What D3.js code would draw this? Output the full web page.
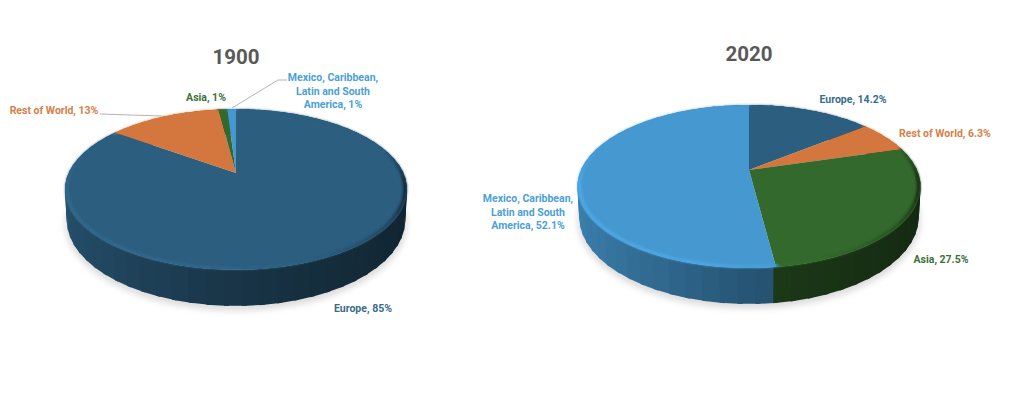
<!DOCTYPE html>
<html lang="en">
<head>
<meta charset="UTF-8">
<title>Immigrant origins, 1900 and 2020</title>
<script src="https://d3js.org/d3.v7.min.js"></script>
<style>
  html, body { margin: 0; background: #fff; }
  text { font-family: "Roboto", sans-serif; font-weight: 700; }
</style>
</head>
<body>
<svg width="1024" height="404"></svg>
<script>
// values, clockwise from 12 o'clock
const categories = ['Europe', 'Rest of World', 'Asia', 'Mexico, Caribbean, Latin and South America'];
const values1900 = [85, 13, 1, 1];
const values2020 = [14.2, 6.3, 27.5, 52.1];
const valueLabels1900 = ['85%', '13%', '1%', '1%'];
const valueLabels2020 = ['14.2%', '6.3%', '27.5%', '52.1%'];
const colors = ['#2c5e7f', '#d4773f', '#33692c', '#4698d0'];
const textColors = ['#3a6c8d', '#d87e48', '#3d7236', '#4c9fd8'];

const svg = d3.select('svg');
const defs = svg.append('defs');
defs.append('filter').attr('id', 'soft').append('feGaussianBlur').attr('stdDeviation', 0.8);
defs.append('filter').attr('id', 'shadow').attr('x', '-10%').attr('y', '-10%').attr('width', '120%').attr('height', '120%')
  .append('feGaussianBlur').attr('stdDeviation', 3);

// side shading runs light on the left to dark on the right
const sideShade = d3.scaleLinear().domain([-1, 0, 1]).range([0.85, 0.56, 0.38]).clamp(true);
const rimShade = d3.scaleLinear().domain([-1, -0.3, 0.3, 0.8, 1]).range([1.1, 1.12, 1.02, 0.75, 0.4]);
const rimFade = d3.scaleLinear().domain([-0.35, 0.15]).range([0, 1]).clamp(true);

function shade(color, k) {
  const c = d3.rgb(color);
  return d3.rgb(Math.min(255, c.r * k), Math.min(255, c.g * k), Math.min(255, c.b * k)).formatHex();
}

function drawPie(values, g) {
  // perspective ellipse: w shrinks toward the viewer so the apex sits above the ellipse middle
  const proj = (a, r, drop, scale) => {
    const X = Math.sin(a) * r, Y = -Math.cos(a) * r;
    const w = 1 - g.k * Y;
    return [g.cx + g.rx * X * scale / w, g.cy + (g.ry * Y * scale + drop) / w];
  };
  const line = d3.line();
  const root = svg.append('g');
  const arcs = d3.pie().sort(null)(values);
  const step = Math.PI / 36;

  const ring = (r, drop, scale) => d3.range(0, 2 * Math.PI + step, step).map(a => proj(a, r, drop, scale));

  root.append('path')
    .attr('d', line(ring(1, g.depth + 3, 1)) + 'Z')
    .attr('fill', '#dcdcdc')
    .attr('filter', 'url(#shadow)');

  // split every slice into small pieces along the edge
  const pieces = [];
  arcs.forEach(d => {
    const n = Math.max(1, Math.ceil((d.endAngle - d.startAngle) / step));
    d3.range(n).forEach(i => {
      const a0 = d.startAngle + (d.endAngle - d.startAngle) * i / n;
      const a1 = d.startAngle + (d.endAngle - d.startAngle) * (i + 1) / n;
      pieces.push({ a0, a1, color: colors[d.index] });
    });
  });
  // left to right, each piece overlaps the next one a little so no seams show
  const frontPieces = pieces.slice().sort((p, q) => Math.sin(p.a0 + step / 2) - Math.sin(q.a0 + step / 2));

  root.append('g').selectAll('path').data(frontPieces).join('path')
    .attr('d', p => {
      const a = p.a0 - 0.012, b = p.a1 + 0.012;
      return line([proj(a, 1, 0, 1), proj(b, 1, 0, 1),
        proj(b, 1, g.depth, g.bottom), proj(a, 1, g.depth, g.bottom)]) + 'Z';
    })
    .attr('fill', p => shade(p.color, sideShade(Math.sin((p.a0 + p.a1) / 2))));

  const wedge = d => {
    const n = Math.max(2, Math.ceil((d.endAngle - d.startAngle) / (step / 2)));
    const edge = d3.range(n + 1).map(i => proj(d.startAngle + (d.endAngle - d.startAngle) * i / n, 1, 0, 1));
    return line([proj(0, 0, 0, 1), ...edge]) + 'Z';
  };
  root.append('g').selectAll('path').data(arcs).join('path')
    .attr('d', wedge)
    .attr('fill', d => colors[d.index]);

  // rounded rim on the top edge
  root.append('g').attr('filter', 'url(#soft)').selectAll('path').data(pieces).join('path')
    .attr('d', p => {
      const a = p.a0 - 0.012, b = p.a1 + 0.012;
      return line([proj(a, 1, 0, 1), proj(b, 1, 0, 1), proj(b, 0.98, 0, 1), proj(a, 0.98, 0, 1)]) + 'Z';
    })
    .attr('fill', p => {
      const m = (p.a0 + p.a1) / 2;
      const t = rimFade(-Math.cos(m));
      return shade(p.color, 1 + t * (rimShade(Math.sin(m)) - 1));
    });
}

drawPie(values1900, { cx: 236, cy: 173, rx: 167.4, ry: 77, k: 0.205, depth: 29.5, bottom: 0.99 });
drawPie(values2020, { cx: 749, cy: 170, rx: 168, ry: 78.2, k: 0.2025, depth: 29.5, bottom: 0.99 });

// leader lines and label placement
const leaders = [
  [[100, 114], [162, 116]],
  [[287, 80], [278, 80], [232, 108]]
];
svg.append('g').selectAll('path').data(leaders).join('path')
  .attr('d', d3.line())
  .attr('fill', 'none')
  .attr('stroke', '#b4b4b4')
  .attr('stroke-width', 1);

const titles = [['1900', 236, 64], ['2020', 749, 61]];
svg.append('g').selectAll('text').data(titles).join('text')
  .attr('x', d => d[1]).attr('y', d => d[2])
  .attr('text-anchor', 'middle')
  .attr('font-size', 20.5)
  .attr('fill', '#595959')
  .text(d => d[0]);

const mexicoLines = ['Mexico, Caribbean,', 'Latin and South', 'America, '];
const labels = [
  { i: 0, v: valueLabels1900, x: 363, y: 312 },
  { i: 1, v: valueLabels1900, x: 54, y: 114 },
  { i: 2, v: valueLabels1900, x: 206, y: 101 },
  { i: 3, v: valueLabels1900, x: 333, y: 81, dy: 13.5 },
  { i: 0, v: valueLabels2020, x: 853, y: 103 },
  { i: 1, v: valueLabels2020, x: 945, y: 137 },
  { i: 2, v: valueLabels2020, x: 941, y: 263 },
  { i: 3, v: valueLabels2020, x: 528, y: 202, dy: 13.5 }
];
const labelG = svg.append('g');
labels.forEach(l => {
  const lines = l.i === 3
    ? [mexicoLines[0], mexicoLines[1], mexicoLines[2] + l.v[l.i]]
    : [categories[l.i] + ', ' + l.v[l.i]];
  labelG.append('text')
    .attr('text-anchor', 'middle')
    .attr('font-size', 10.5)
    .attr('fill', textColors[l.i])
    .selectAll('tspan').data(lines).join('tspan')
    .attr('x', l.x)
    .attr('y', (d, i) => l.y + i * (l.dy || 0))
    .text(d => d);
});
</script>
</body>
</html>
